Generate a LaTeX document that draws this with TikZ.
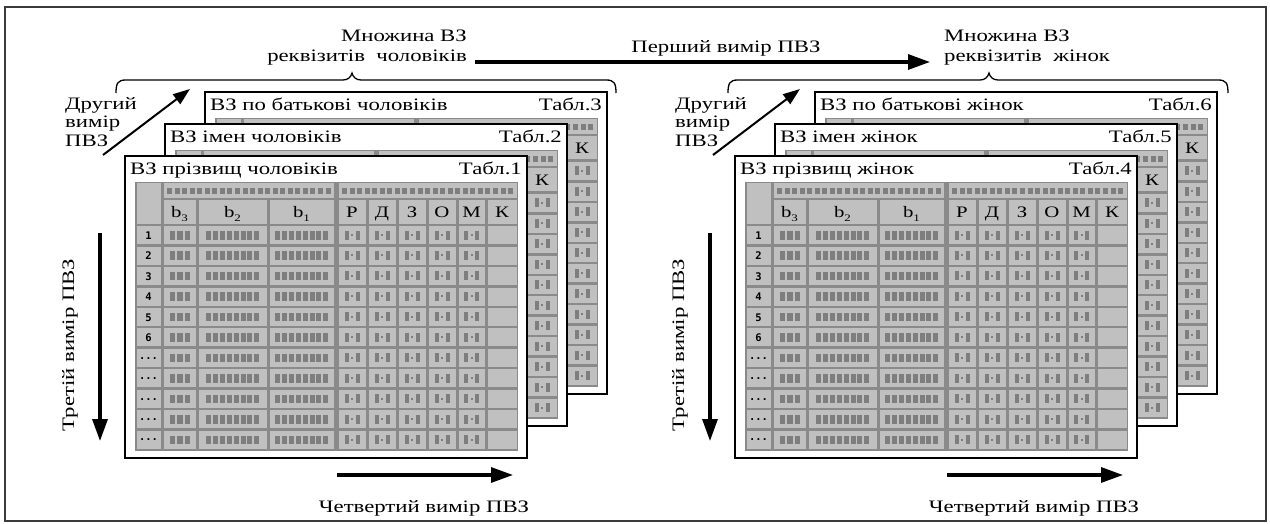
\documentclass[tikz,border=0pt]{standalone}
\usepackage{fontspec}
\setmainfont{Liberation Serif}[FakeStretch=1.3]
\newfontfamily\numfont{DejaVu Sans Mono}
\usetikzlibrary{arrows.meta}
\definecolor{gridbg}{HTML}{8A8A8A}
\definecolor{cellbg}{HTML}{C0C0C0}
\definecolor{blk}{HTML}{7E7E7E}
\definecolor{framec}{HTML}{3A3A3A}
\newcommand{\ddd}{...}
\newcommand{\bsub}[1]{b\raisebox{-4pt}{\fontsize{10}{10}\selectfont #1}}
\tikzset{
  ttl/.style={font=\fontsize{17.5}{17.5}\selectfont, inner sep=0pt},
  lbl/.style={font=\fontsize{17.5}{19}\selectfont, inner sep=0pt},
  hdr/.style={font=\fontsize{16}{16}\selectfont, inner sep=0pt},
  rnum/.style={font=\numfont\bfseries\fontsize{10.5}{10.5}\selectfont, inner sep=0pt},
  bigarrow/.style={line width=3.2pt, -{Triangle[length=22pt,width=15pt]}},
  diagarrow/.style={line width=2pt, -{Triangle[length=17pt,width=12pt]}},
  bracep/.style={line width=1.3pt},
}
\newcommand{\rdm}[2]{%
  \fill[blk] (#1-7.5,#2+5.5) rectangle ++(4,9);
  \fill[blk] (#1-1,#2+9) rectangle ++(2,2);
  \fill[blk] (#1+3.5,#2+5.5) rectangle ++(4,9);}
% #1 name, #2 x, #3 y, #4 title, #5 tabl, #6 back table (1) or front (0)
\newcommand{\vztable}[6]{%
\begin{scope}[shift={(#2,#3)}]
\fill[white] (0,0) rectangle (402,302);
\draw[line width=1.6pt, black] (0,0) rectangle (402,302);
\node[ttl, anchor=base west] (#1title) at (5,19) {#4};
\node[ttl, anchor=base east] (#1tabl) at (397,19) {#5};
\fill[gridbg] (10,26) rectangle (393,295);
\fill[cellbg] (11.5,27.5) rectangle (35.5,67.5);
\fill[cellbg] (38.5,27.5) rectangle (208.5,42.5);
\fill[cellbg] (213.5,27.5) rectangle (391.5,42.5);
\foreach \i in {0,...,21} \fill[blk] ({42+7.55*\i},32) rectangle ++(5,6);
\foreach \i in {0,...,22} \fill[blk] ({217+7.55*\i},32) rectangle ++(5,6);
\foreach \xl/\xr/\lab/\nm in {38.5/70.5/{\bsub3}/bc,73.5/141.5/{\bsub2}/bb,144.5/208.5/{\bsub1}/ba,213.5/240.5/Р/r,243.5/270.5/Д/d,273.5/300.5/З/z,303.5/330.5/О/o,333.5/359.5/М/m}{
  \fill[cellbg] (\xl,44.5) rectangle (\xr,67.5);
  \ifnum#6=0 \node[hdr, anchor=base] (#1h\nm) at ({(\xl+\xr)/2},61.5) {\lab};\fi
}
\fill[cellbg] (362.5,44.5) rectangle (391.5,67.5);
\node[hdr, anchor=base] (#1hk) at (377,61.5) {К};
\foreach \r/\lab in {0/1,1/2,2/3,3/4,4/5,5/6,6/\ddd,7/\ddd,8/\ddd,9/\ddd,10/\ddd}{
  \pgfmathsetmacro\yt{69+20.45*\r}
  \foreach \xl/\xr in {11.5/35.5,38.5/70.5,73.5/141.5,144.5/208.5,213.5/240.5,243.5/270.5,273.5/300.5,303.5/330.5,333.5/359.5,362.5/391.5}
    \fill[cellbg] (\xl,\yt+1.2) rectangle (\xr,\yt+19.2);
  \ifnum#6=0 \node[rnum] (#1n\r) at (23.5,\yt+10.5) {\lab};\fi
  \foreach \i in {0,1,2} \fill[blk] ({44.5+7.5*\i},\yt+6) rectangle ++(5.5,8.5);
  \foreach \i in {0,...,7} \fill[blk] ({81+6.9*\i},\yt+6) rectangle ++(5,8.5);
  \foreach \i in {0,...,7} \fill[blk] ({150+6.9*\i},\yt+6) rectangle ++(5,8.5);
  \foreach \cx in {227,257,287,317,346.5} {\rdm{\cx}{\yt}}
  \ifnum#6=1 \rdm{377}{\yt}\fi
}
\end{scope}}
\begin{document}
\begin{tikzpicture}[x=1pt,y=-1pt]
\useasboundingbox (0,0) rectangle (1270,524);
\fill[white] (0,0) rectangle (1270,524);
\draw[line width=1.3pt, framec] (5,7) rectangle (1266,521);
% left stack
\vztable{LC}{205}{92}{ВЗ по батькові чоловіків}{Табл.3}{1}
\vztable{LB}{165}{124}{ВЗ імен чоловіків}{Табл.2}{1}
\vztable{LA}{125}{156}{ВЗ прізвищ чоловіків}{Табл.1}{0}
% right stack
\vztable{RC}{815}{92}{ВЗ по батькові жінок}{Табл.6}{1}
\vztable{RB}{775}{124}{ВЗ імен жінок}{Табл.5}{1}
\vztable{RA}{735}{156}{ВЗ прізвищ жінок}{Табл.4}{0}
% top labels
\node[lbl, anchor=base east] (mL1) at (467,42) {Множина ВЗ};
\node[lbl, anchor=base east] (mL2) at (467,62) {реквізитів\ \ чоловіків};
\node[lbl, anchor=base west] (mR1) at (944,42) {Множина ВЗ};
\node[lbl, anchor=base west] (mR2) at (944,62) {реквізитів\ \ жінок};
\node[lbl, anchor=base] (first) at (726,53) {Перший вимір ПВЗ};
\coordinate (f1) at (475,62);
\coordinate (f2) at (930,62);
\draw[bigarrow] (f1) -- (f2);
% braces
\draw[bracep] (116,93) .. controls (116,83) and (118,80) .. (126,80) -- (343,80) .. controls (348,80) and (351,77) .. (352,73) .. controls (353,77) and (356,80) .. (361,80) -- (606,80) .. controls (614,80) and (616,83) .. (616,93);
\draw[bracep] (728,93) .. controls (728,83) and (730,80) .. (738,80) -- (980,80) .. controls (985,80) and (988,77) .. (989,73) .. controls (990,77) and (993,80) .. (998,80) -- (1218,80) .. controls (1226,80) and (1228,83) .. (1228,93);
% second dimension
\node[lbl, anchor=base west] (sL1) at (65,110) {Другий};
\node[lbl, anchor=base west] (sL2) at (65,128) {вимір};
\node[lbl, anchor=base west] (sL3) at (65,147) {ПВЗ};
\node[lbl, anchor=base west] (sR1) at (675,110) {Другий};
\node[lbl, anchor=base west] (sR2) at (675,128) {вимір};
\node[lbl, anchor=base west] (sR3) at (675,147) {ПВЗ};
\coordinate (dL1) at (103,155);
\coordinate (dL2) at (190,89);
\coordinate (dR1) at (713,155);
\coordinate (dR2) at (800,89);
\draw[diagarrow] (dL1) -- (dL2);
\draw[diagarrow] (dR1) -- (dR2);
% third dimension
\coordinate (vL1) at (100,233);
\coordinate (vL2) at (100,441);
\coordinate (vR1) at (710,233);
\coordinate (vR2) at (710,441);
\draw[bigarrow] (vL1) -- (vL2);
\draw[bigarrow] (vR1) -- (vR2);
\node[lbl, rotate=90] (tL) at (70,345) {Третій вимір ПВЗ};
\node[lbl, rotate=90] (tR) at (680,345) {Третій вимір ПВЗ};
% fourth dimension
\coordinate (hL1) at (337,475);
\coordinate (hL2) at (513,475);
\coordinate (hR1) at (947,475);
\coordinate (hR2) at (1123,475);
\draw[bigarrow] (hL1) -- (hL2);
\draw[bigarrow] (hR1) -- (hR2);
\node[lbl, anchor=base] (qL) at (424,512) {Четвертий вимір ПВЗ};
\node[lbl, anchor=base] (qR) at (1034,512) {Четвертий вимір ПВЗ};
\end{tikzpicture}
\end{document}
